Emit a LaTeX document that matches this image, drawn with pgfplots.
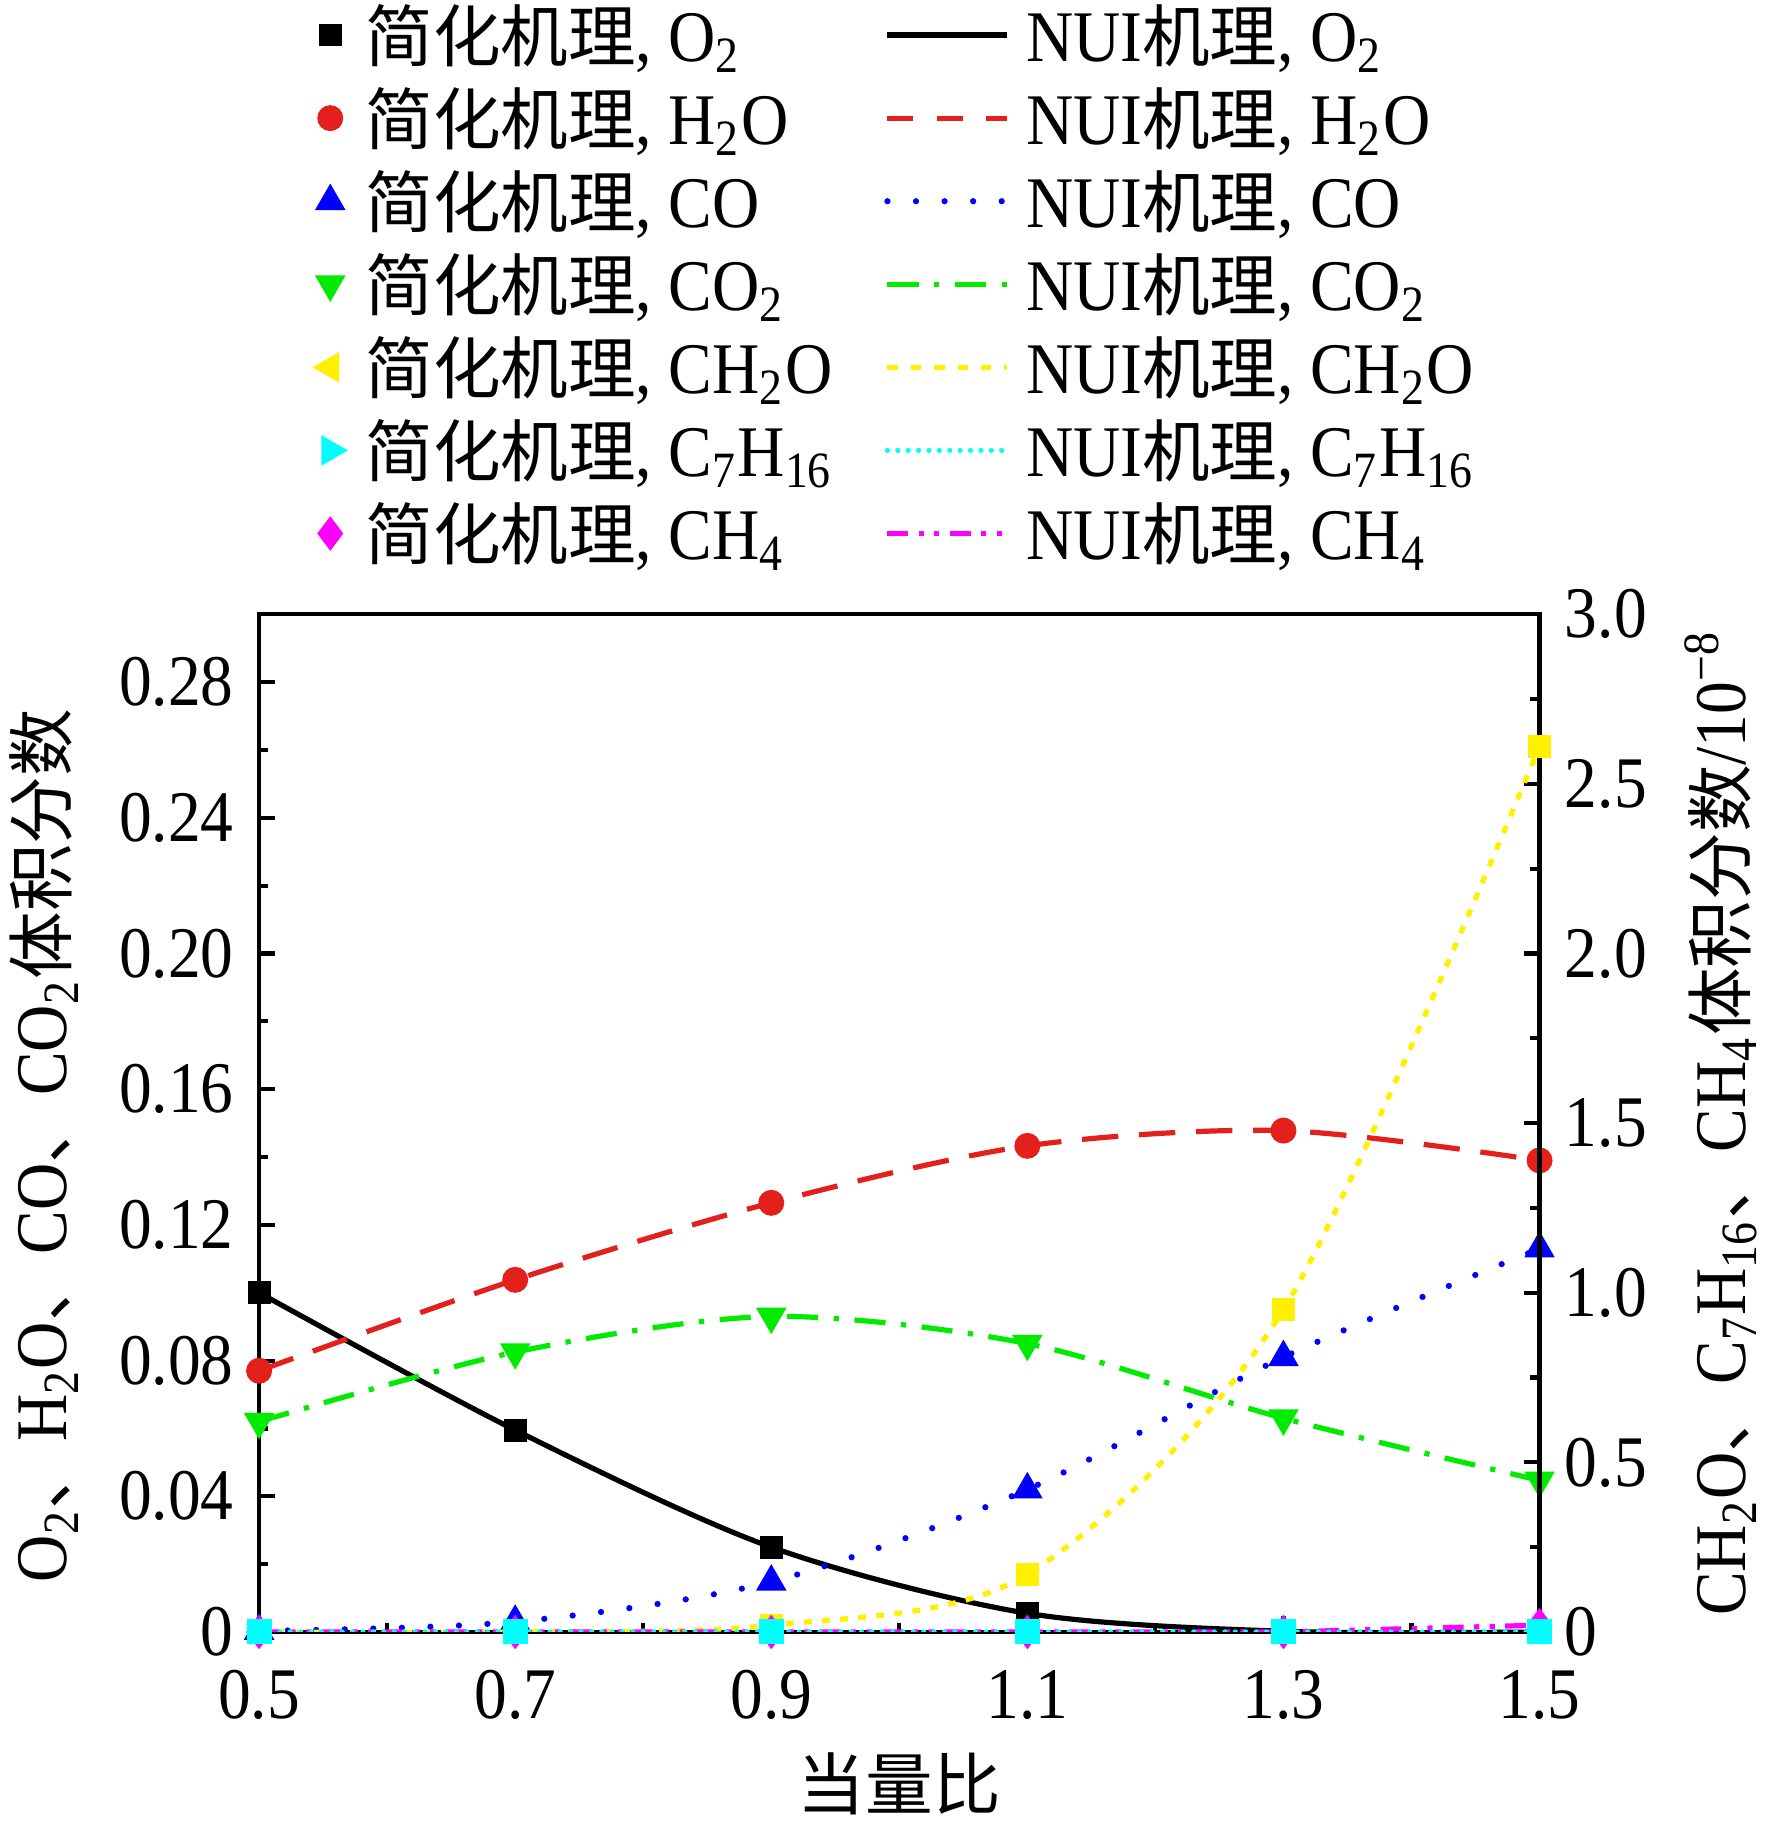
\documentclass[border=0pt]{standalone}
\usepackage{fontspec}
\setmainfont{Liberation Serif}[FakeStretch=0.9]
\newfontfamily\cjk{Noto Sans CJK SC}[Scale=0.93]
\usepackage{pgfplots}
\pgfplotsset{compat=1.18}
\newcommand{\zh}[1]{{\cjk #1}}
\newcommand{\sub}[1]{\textsubscript{#1}}
\definecolor{cred}{RGB}{228,32,28}
\definecolor{cblue}{RGB}{0,0,255}
\definecolor{cgreen}{RGB}{0,235,0}
\definecolor{cyel}{RGB}{255,240,0}
\definecolor{ccyan}{RGB}{0,255,255}
\definecolor{cmag}{RGB}{255,0,255}

\pgfplotstableread{
x y
0.5 0.1000
0.7 0.0595
0.9 0.0250
1.1 0.0055
1.3 0.0002
1.5 0.0000
}\tO
\pgfplotstableread{
x y
0.5 0.0770
0.7 0.1038
0.9 0.1265
1.1 0.1433
1.3 0.1478
1.5 0.1390
}\tH
\pgfplotstableread{
x y
0.5 0.0003
0.7 0.0030
0.9 0.0148
1.1 0.0420
1.3 0.0810
1.5 0.1130
}\tCO
\pgfplotstableread{
x y
0.5 0.0620
0.7 0.0825
0.9 0.0930
1.1 0.0850
1.3 0.0630
1.5 0.0447
}\tCOO
\pgfplotstableread{
x y
0.5 0.00
0.7 0.00
0.9 0.02
1.1 0.17
1.3 0.95
1.5 2.61
}\tCHO
\pgfplotstableread{
x y
0.5 0
0.7 0
0.9 0
1.1 0
1.3 0
1.5 0
}\tC
\pgfplotstableread{
x y
0.5 0
0.7 0
0.9 0
1.1 0
1.3 0
1.5 0.02
}\tCH

\pgfplotsset{
  myaxis/.style={
    scale only axis, width=246.6pt, height=196pt,
    xmin=0.5, xmax=1.5, clip mode=individual,
    tick align=inside, major tick length=3pt, minor tick length=1.8pt,
    every tick/.style={black, line width=0.8pt},
    axis line style={line width=0.8pt},
    tick label style={font=\fontsize{14}{16}\selectfont, inner sep=1pt},
  },
  mlegm/.style={only marks, legend image code/.code={\draw[##1] plot coordinates {(0pt,0pt)};}},
  mlegl/.style={legend image code/.code={\draw[##1] (0pt,0pt) -- (23pt,0pt);}},
}

\begin{document}
\begin{tikzpicture}
\begin{axis}[myaxis,
  xtick={0.5,0.7,0.9,1.1,1.3,1.5},
  xticklabels={0.5,0.7,0.9,1.1,1.3,1.5},
  minor xtick={0.6,0.8,1.0,1.2,1.4},
  xtick pos=left, ytick pos=left,
  ymin=0, ymax=0.3,
  ytick={0,0.04,0.08,0.12,0.16,0.20,0.24,0.28},
  yticklabels={0,0.04,0.08,0.12,0.16,0.20,0.24,0.28},
  minor ytick={0.02,0.06,0.10,0.14,0.18,0.22,0.26},
  xticklabel style={yshift=-6.2pt},
  yticklabel style={xshift=-3.7pt},
  xlabel={\zh{当量比}},
  every axis x label/.style={at={(axis description cs:0.5,0)}, anchor=center, yshift=-29.3pt, font=\fontsize{14}{16}\selectfont},
  ylabel={O\sub{2}\zh{、}H\sub{2}O\zh{、}CO\zh{、}CO\sub{2}\zh{体积分数}},
  every axis y label/.style={at={(axis description cs:0,0.478)}, rotate=90, anchor=center, yshift=41.4pt, font=\fontsize{14}{16}\selectfont},
]
\coordinate (BL) at (rel axis cs:0,0);
\coordinate (TR) at (rel axis cs:1,1);
\addplot[black, line width=1pt, smooth] table {\tO};
\addplot[cred, line width=1pt, smooth, dash pattern=on 7pt off 4pt] table {\tH};
\addplot[cblue, line width=1.2pt, smooth, line cap=round, dash pattern=on 0pt off 5.5pt] table {\tCO};
\addplot[cgreen, line width=1pt, smooth, dash pattern=on 6pt off 3pt on 1pt off 3pt] table {\tCOO};
\addplot[only marks, mark=square*, mark size=2pt, black] table {\tO};
\addplot[only marks, mark=*, mark size=2.3pt, cred] table {\tH};
\addplot[only marks, mark=triangle*, mark size=3pt, cblue] table {\tCO};
\addplot[only marks, mark=triangle*, mark size=3pt, mark options={rotate=180}, cgreen] table {\tCOO};
\end{axis}
\begin{axis}[myaxis,
  hide x axis, axis y line*=right,
  ymin=0, ymax=3,
  ytick={0,0.5,1,1.5,2,2.5,3},
  yticklabels={0,0.5,1.0,1.5,2.0,2.5,3.0},
  minor ytick={0.25,0.75,1.25,1.75,2.25,2.75},
  yticklabel style={xshift=3.7pt},
  ylabel={CH\sub{2}O\zh{、}C\sub{7}H\sub{16}\zh{、}CH\sub{4}\zh{体积分数}/10\textsuperscript{−8}},
  every axis y label/.style={at={(axis description cs:1,0.5)}, rotate=90, anchor=center, yshift=-34.9pt, font=\fontsize{14}{16}\selectfont},
  legend columns=2, legend cell align=left,
  legend style={draw=none, fill=none, at={(0.0426,1.611)}, anchor=north west,
    inner sep=0pt, row sep=0pt, column sep=0pt,
    font=\fontsize{14}{16}\selectfont,
    nodes={inner sep=0pt, text height=13pt, text depth=3pt},
    /tikz/column 1/.style={column sep=3.8pt},
    /tikz/column 2/.style={column sep=9.8pt},
    /tikz/column 3/.style={column sep=3.1pt}},
]
\addlegendimage{mlegm, mark=square*, mark size=2pt, black}
\addlegendentry{\zh{简化机理}, O\sub{2}}
\addlegendimage{mlegl, black, line width=1pt}
\addlegendentry{NUI\zh{机理}, O\sub{2}}
\addlegendimage{mlegm, mark=*, mark size=2.3pt, cred}
\addlegendentry{\zh{简化机理}, H\sub{2}O}
\addlegendimage{mlegl, cred, line width=1pt, dash pattern=on 5pt off 4.5pt}
\addlegendentry{NUI\zh{机理}, H\sub{2}O}
\addlegendimage{mlegm, mark=triangle*, mark size=3pt, cblue}
\addlegendentry{\zh{简化机理}, CO}
\addlegendimage{mlegl, cblue, line width=1.2pt, line cap=round, dash pattern=on 0pt off 5.5pt}
\addlegendentry{NUI\zh{机理}, CO}
\addlegendimage{mlegm, mark=triangle*, mark size=3pt, mark options={rotate=180}, cgreen}
\addlegendentry{\zh{简化机理}, CO\sub{2}}
\addlegendimage{mlegl, cgreen, line width=1pt, dash pattern=on 6pt off 3pt on 1pt off 3pt}
\addlegendentry{NUI\zh{机理}, CO\sub{2}}
\addlegendimage{mlegm, mark=triangle*, mark size=3pt, mark options={rotate=90}, cyel}
\addlegendentry{\zh{简化机理}, CH\sub{2}O}
\addlegendimage{mlegl, cyel, line width=1pt, dash pattern=on 2pt off 2.5pt}
\addlegendentry{NUI\zh{机理}, CH\sub{2}O}
\addlegendimage{mlegm, mark=triangle*, mark size=3pt, mark options={rotate=-90}, ccyan}
\addlegendentry{\zh{简化机理}, C\sub{7}H\sub{16}}
\addlegendimage{mlegl, ccyan, line width=1pt, line cap=round, dash pattern=on 0pt off 2pt}
\addlegendentry{NUI\zh{机理}, C\sub{7}H\sub{16}}
\addlegendimage{mlegm, mark=diamond*, mark size=3pt, cmag}
\addlegendentry{\zh{简化机理}, CH\sub{4}}
\addlegendimage{mlegl, cmag, line width=1pt, dash pattern=on 4pt off 2pt on 1pt off 2pt on 1pt off 2pt}
\addlegendentry{NUI\zh{机理}, CH\sub{4}}
\addplot[forget plot, cyel, line width=1pt, smooth, dash pattern=on 1.5pt off 2pt] table {\tCHO};
\addplot[forget plot, cmag, line width=1pt, dash pattern=on 4pt off 2pt on 1pt off 2pt on 1pt off 2pt] table {\tCH};
\addplot[forget plot, ccyan, line width=1pt, line cap=round, dash pattern=on 0pt off 2pt] table {\tC};
\addplot[forget plot, only marks, mark=square*, mark size=2pt, cyel] table {\tCHO};
\addplot[forget plot, only marks, mark=diamond*, mark size=3pt, cmag] table {\tCH};
\addplot[forget plot, only marks, mark=square*, mark size=2.2pt, ccyan] table {\tC};
\end{axis}
\pgfresetboundingbox
\path ([shift={(-49.9pt,-36.6pt)}]BL) rectangle ([shift={(44.9pt,118.3pt)}]TR);
\end{tikzpicture}
\end{document}
